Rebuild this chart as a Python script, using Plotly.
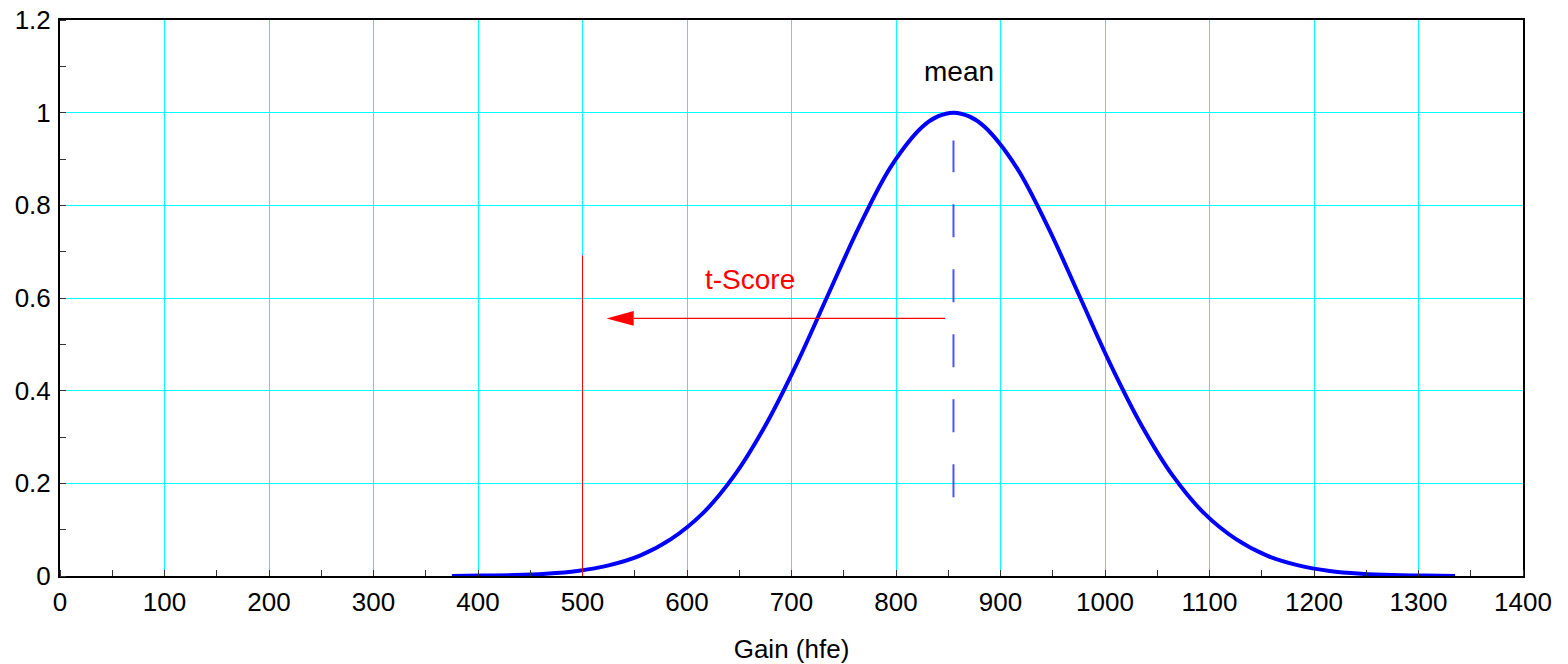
import plotly.graph_objects as go

# Gain (hfe) distribution curve
gain = [375, 405, 435, 465, 495, 525, 555, 585, 615, 645, 675, 705, 735,
        765, 795, 825, 840, 855, 870, 885, 915, 945, 975, 1005, 1035, 1065,
        1095, 1125, 1155, 1185, 1215, 1245, 1275, 1305, 1335]
density = [0.000, 0.001, 0.002, 0.005, 0.011, 0.023, 0.044, 0.080, 0.135,
           0.216, 0.325, 0.458, 0.607, 0.755, 0.883, 0.969, 0.992, 1.000,
           0.992, 0.969, 0.883, 0.755, 0.607, 0.458, 0.325, 0.216, 0.135,
           0.080, 0.044, 0.023, 0.011, 0.005, 0.002, 0.001, 0.000]

mean_gain = 855
mean_span = (0.17, 0.94)
limit_gain = 500
limit_top = 0.692
arrow_from = 847
arrow_to = 523
arrow_y = 0.556
head_len = 26      # in gain units
head_half = 0.016  # in y units

x_ticks = list(range(0, 1401, 100))
y_ticks = [0, 0.2, 0.4, 0.6, 0.8, 1, 1.2]
y_tick_text = ["0", "0.2", "0.4", "0.6", "0.8", "1", "1.2"]

FONT = "Liberation Sans, Arial, Helvetica, sans-serif"

fig = go.Figure(go.Scatter(
    x=gain, y=density, mode="lines", line={"color": "#0000ff", "width": 4,
                                           "shape": "spline"},
    showlegend=False, hoverinfo="skip",
))

# spec limit, mean marker and t-score arrow
fig.add_shape(type="line", x0=limit_gain, x1=limit_gain, y0=0, y1=limit_top,
              line={"color": "#ff0000", "width": 1})
fig.add_shape(type="line", x0=mean_gain, x1=mean_gain,
              y0=mean_span[0], y1=mean_span[1],
              line={"color": "rgba(50,50,255,0.85)", "width": 2,
                    "dash": "33px,32px"})
fig.add_shape(type="line", x0=arrow_from, x1=arrow_to + head_len,
              y0=arrow_y, y1=arrow_y, line={"color": "#ff0000", "width": 1.3})
fig.add_shape(type="path", fillcolor="#ff0000", line={"width": 0},
              path=(f"M {arrow_to},{arrow_y} "
                    f"L {arrow_to + head_len},{arrow_y + head_half} "
                    f"L {arrow_to + head_len},{arrow_y - head_half} Z"))

fig.add_annotation(x=660, y=0.64, text="t-Score", showarrow=False,
                   font={"color": "#ff0000", "size": 28, "family": FONT})
fig.add_annotation(x=860, y=1.088, text="mean", showarrow=False,
                   font={"color": "#000000", "size": 28, "family": FONT})

axis_common = dict(showline=True, linewidth=2, linecolor="black", mirror=True,
                   showgrid=True, gridcolor="#00ffff", gridwidth=1,
                   zeroline=False, ticks="", automargin=False,
                   ticklabeloverflow="allow",
                   tickfont={"size": 26, "color": "black", "family": FONT})

fig.update_xaxes(range=[0, 1400], tickvals=x_ticks,
                 minor={"dtick": 50, "tick0": 0, "ticks": "inside",
                        "ticklen": 6, "tickcolor": "#333", "showgrid": False},
                 ticklabelstandoff=2,
                 title={"text": "Gain (hfe)", "standoff": 24,
                        "font": {"size": 26, "color": "black", "family": FONT}},
                 **axis_common)
fig.update_yaxes(range=[0, 1.2], tickvals=y_ticks, ticktext=y_tick_text,
                 minor={"dtick": 0.1, "tick0": 0, "ticks": "inside",
                        "ticklen": 6, "tickcolor": "#333", "showgrid": False},
                 ticklabelstandoff=2,
                 **axis_common)

fig.update_layout(width=1568, height=664, plot_bgcolor="white",
                  paper_bgcolor="white",
                  margin={"l": 52, "r": 53, "t": 12, "b": 96},
                  font={"family": FONT})

fig.write_html("out.html")
